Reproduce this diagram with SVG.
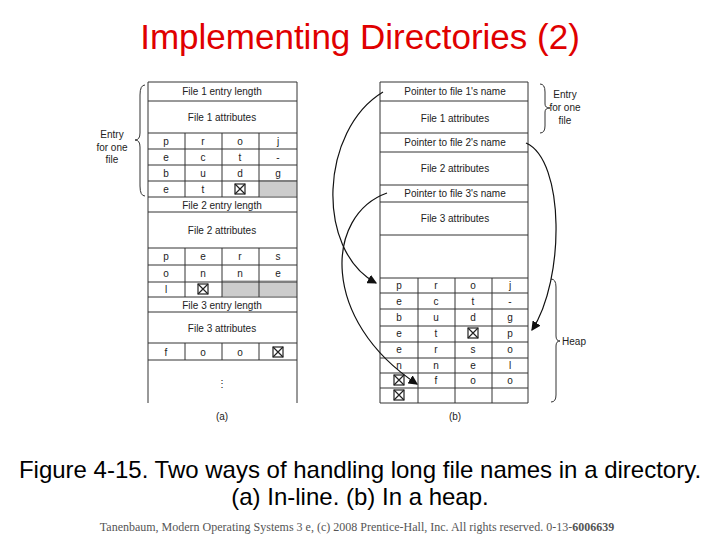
<svg xmlns="http://www.w3.org/2000/svg" width="720" height="540" viewBox="0 0 720 540">
<style>
.t{font-family:"Liberation Sans",Arial,sans-serif;font-size:10px;fill:#222;text-anchor:middle}
.l{stroke:#333;stroke-width:1;fill:none}
.x{stroke:#222;stroke-width:1.2;fill:none}
</style>
<defs><marker id="ah" markerWidth="8" markerHeight="8" refX="7" refY="4" orient="auto"><path d="M0,0 L8,4 L0,8 z" fill="#111"/></marker>
<g id="xb"><rect x="-5" y="-5" width="10" height="10" class="x"/><path d="M-5,-5 L5,5 M5,-5 L-5,5" class="x"/></g></defs>
<rect width="720" height="540" fill="#fff"/>
<text x="360" y="49" font-family="Liberation Sans,Arial,sans-serif" font-size="35" fill="#e00000" text-anchor="middle">Implementing Directories (2)</text>
<g id="a">
<rect x="259" y="180" width="38" height="16" fill="#ccc"/>
<rect x="222" y="280" width="75" height="16" fill="#ccc"/>
<path class="l" d="M148,82 V403 M297,82 V403 M148,82 H297 M148,101 H297 M148,133 H297 M148,149 H297 M148,165 H297 M148,181 H297 M148,197 H297 M148,212 H297 M148,248 H297 M148,265 H297 M148,282 H297 M148,297 H297 M148,312 H297 M148,343 H297 M148,360 H297"/>
<path class="l" d="M185,133 V197 M222,133 V197 M259,133 V197 M185,248 V297 M222,248 V297 M259,248 V297 M185,343 V360 M222,343 V360 M259,343 V360"/>
<text class="t" x="222" y="95">File 1 entry length</text>
<text class="t" x="222" y="121">File 1 attributes</text>
<text class="t" x="222" y="209">File 2 entry length</text>
<text class="t" x="222" y="234">File 2 attributes</text>
<text class="t" x="222" y="309">File 3 entry length</text>
<text class="t" x="222" y="332">File 3 attributes</text>
<g class="t">
<text x="166" y="145">p</text><text x="203" y="145">r</text><text x="240" y="145">o</text><text x="278" y="145">j</text>
<text x="166" y="161">e</text><text x="203" y="161">c</text><text x="240" y="161">t</text><text x="278" y="161">-</text>
<text x="166" y="177">b</text><text x="203" y="177">u</text><text x="240" y="177">d</text><text x="278" y="177">g</text>
<text x="166" y="193">e</text><text x="203" y="193">t</text>
<text x="166" y="260">p</text><text x="203" y="260">e</text><text x="240" y="260">r</text><text x="278" y="260">s</text>
<text x="166" y="277">o</text><text x="203" y="277">n</text><text x="240" y="277">n</text><text x="278" y="277">e</text>
<text x="166" y="293">l</text>
<text x="166" y="356">f</text><text x="203" y="356">o</text><text x="240" y="356">o</text>
<text x="222" y="387">⋮</text>
</g>
<use href="#xb" x="240" y="189"/><use href="#xb" x="203" y="289"/><use href="#xb" x="278" y="352"/>
<text class="t" x="222" y="420">(a)</text>
<path class="l" d="M145,85 Q140,85 140,95 V133 Q140,140 135,140 Q140,140 140,147 V186 Q140,196 145,196"/>
<text class="t" x="112" y="138">Entry</text><text class="t" x="112" y="151">for one</text><text class="t" x="112" y="163">file</text>
</g>
<g id="b">
<path class="l" d="M380,82 V403 M528,82 V403 M380,82 H528 M380,101 H528 M380,133 H528 M380,152 H528 M380,185 H528 M380,202 H528 M380,235 H528 M380,278 H528 M380,293 H528 M380,309 H528 M380,326 H528 M380,342 H528 M380,358 H528 M380,373 H528 M380,388 H528 M380,403 H528"/>
<path class="l" d="M418,278 V403 M455,278 V403 M492,278 V403"/>
<text class="t" x="455" y="95">Pointer to file 1's name</text>
<text class="t" x="455" y="122">File 1 attributes</text>
<text class="t" x="455" y="146">Pointer to file 2's name</text>
<text class="t" x="455" y="172">File 2 attributes</text>
<text class="t" x="455" y="197">Pointer to file 3's name</text>
<text class="t" x="455" y="222">File 3 attributes</text>
<g class="t">
<text x="399" y="289">p</text><text x="436" y="289">r</text><text x="473" y="289">o</text><text x="510" y="289">j</text>
<text x="399" y="305">e</text><text x="436" y="305">c</text><text x="473" y="305">t</text><text x="510" y="305">-</text>
<text x="399" y="321">b</text><text x="436" y="321">u</text><text x="473" y="321">d</text><text x="510" y="321">g</text>
<text x="399" y="337">e</text><text x="436" y="337">t</text><text x="510" y="337">p</text>
<text x="399" y="353">e</text><text x="436" y="353">r</text><text x="473" y="353">s</text><text x="510" y="353">o</text>
<text x="399" y="369">n</text><text x="436" y="369">n</text><text x="473" y="369">e</text><text x="510" y="369">l</text>
<text x="436" y="384">f</text><text x="473" y="384">o</text><text x="510" y="384">o</text>
</g>
<use href="#xb" x="473" y="333"/><use href="#xb" x="399" y="380"/><use href="#xb" x="399" y="395"/>
<text class="t" x="455" y="420">(b)</text>
<path class="l" d="M540,84 Q545,84 545,92 V104 Q545,108 550,108 Q545,108 545,112 V126 Q545,133 540,133"/>
<text class="t" x="565" y="98">Entry</text><text class="t" x="565" y="111">for one</text><text class="t" x="565" y="124">file</text>
<path class="l" d="M551,279 Q556,279 556,287 V336 Q556,341 560,341 Q556,341 556,346 V395 Q556,402 551,402"/>
<text class="t" x="574" y="345">Heap</text>
</g>
<g id="connectors" fill="none" stroke="#111" stroke-width="1.2">
<path d="M383,92 C320,130 315,250 376,283" marker-end="url(#ah)"/>
<path d="M526,143 C565,160 565,280 532,330" marker-end="url(#ah)"/>
<path d="M387,193 C325,215 320,320 417,384" marker-end="url(#ah)"/>
</g>
<text x="360" y="478" font-family="Liberation Sans,Arial,sans-serif" font-size="24" fill="#000" text-anchor="middle">Figure 4-15. Two ways of handling long file names in a directory.</text>
<text x="360" y="505" font-family="Liberation Sans,Arial,sans-serif" font-size="24" fill="#000" text-anchor="middle">(a) In-line. (b) In a heap.</text>
<text x="357" y="531" font-family="Liberation Serif,Times New Roman,serif" font-size="12" fill="#555" text-anchor="middle">Tanenbaum, Modern Operating Systems 3 e, (c) 2008 Prentice-Hall, Inc. All rights reserved. 0-13-<tspan font-weight="bold">6006639</tspan></text>
</svg>
